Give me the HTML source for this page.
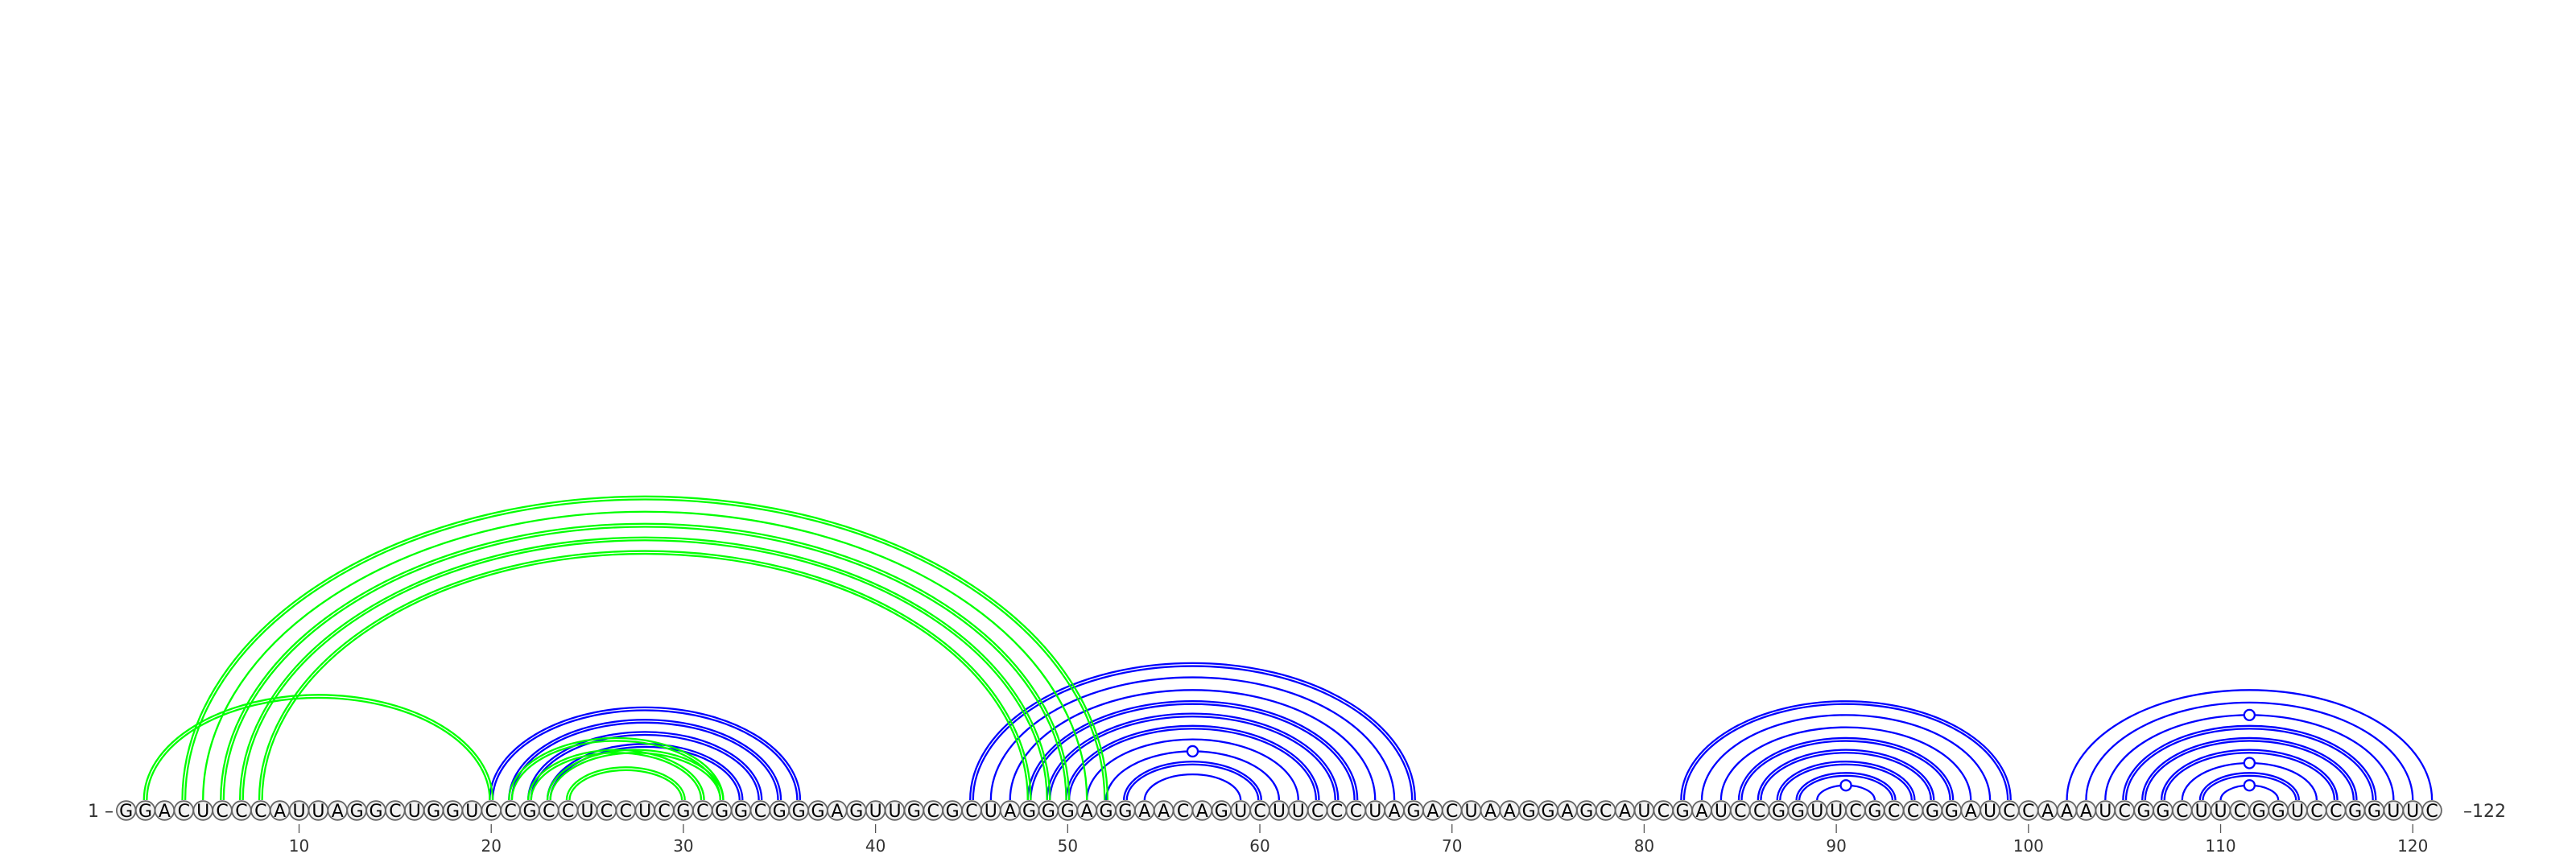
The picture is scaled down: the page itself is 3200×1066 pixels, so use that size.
<!DOCTYPE html>
<html><head><meta charset="utf-8"><style>
html,body{margin:0;padding:0;background:#fff;}
svg{display:block;}
text{font-family:"DejaVu Sans","Liberation Sans",sans-serif;}
</style></head><body>
<svg id="chart" width="3200" height="1066" viewBox="0 0 3200 1066" xmlns="http://www.w3.org/2000/svg">
<g id="arcs-blue"></g>
<g id="arcs-green"></g>
<g id="nts"></g>
<g id="ticks"></g>
<text x="141" y="1015" font-size="22" fill="#333" text-anchor="end">1 –</text>
<text x="3060" y="1015" font-size="22" fill="#333">–122</text>
</svg>
<script>
const sequence = "GGACUCCCAUUAGGCUGGUCCGCCUCCUCGCGGCGGGAGUUGCGCUAGGGAGGAACAGUCUUCCCUAGACUAAGGAGCAUCGAUCCGGUUCGCCGGAUCCAAAUCGGCUUCGGUCCGGUUC";
const tickValues = [10,20,30,40,50,60,70,80,90,100,110,120];
const blueI = [20,21,22,23, 45,46,47,48,49,50,51,52,53,54, 82,83,84,85,86,87,88,89, 102,103,104,105,106,107,108,109,110];
const blueJ = [36,35,34,33, 68,67,66,65,64,63,62,61,60,59, 99,98,97,96,95,94,93,92, 121,120,119,118,117,116,115,114,113];
const blueDouble = [1,1,1,1, 1,0,0,1,1,1,0,0,1,0, 1,0,0,1,1,1,1,0, 0,0,0,1,1,1,0,1,0];
const blueMarker = [0,0,0,0, 0,0,0,0,0,0,0,1,0,0, 0,0,0,0,0,0,0,1, 0,0,1,0,0,0,1,0,1];
const greenI = [2,4,5,6,7,8,21,22,23,24];
const greenJ = [20,52,51,50,49,48,32,31,32,30];
const greenDouble = [1,1,0,1,1,1,1,1,1,1];

const NS="http://www.w3.org/2000/svg";
const x0=156.7, dx=23.87, cy=1007, baseY=994;
function xPos(i){return x0+(i-1)*dx;}
function arcH(half){return 0.37*Math.pow(half,1.09);}
function mk(tag,attrs,parent){const e=document.createElementNS(NS,tag);for(const k in attrs)e.setAttribute(k,attrs[k]);parent.appendChild(e);return e;}

function drawArcs(group,I,J,D,M,color,prefix){
  for(let k=0;k<I.length;k++){
    const xa=xPos(I[k]), xb=xPos(J[k]);
    const half=(xb-xa)/2, h=arcH(half);
    const offs=D[k]?[-1.8,1.8]:[0];
    const g=mk('g',{},group);
    
    
    for(const o of offs){
      const rx=half+o, ry=h+o;
      mk('path',{d:`M ${xa-o} ${baseY} A ${rx} ${ry} 0 0 1 ${xb+o} ${baseY}`,fill:'none',stroke:color,'stroke-width':2.3},g);
    }
    if(M && M[k]){
      const c=mk('circle',{cx:(xa+xb)/2,cy:baseY-h,r:6.5,fill:'#fff',stroke:color,'stroke-width':2.3},g);
      
      
    }
  }
}
drawArcs(document.getElementById('arcs-blue'),blueI,blueJ,blueDouble,blueMarker,'#0000ff','blue');
drawArcs(document.getElementById('arcs-green'),greenI,greenJ,greenDouble,null,'#00ff00','green');

const nts=document.getElementById('nts');
for(let i=0;i<sequence.length;i++){
  const x=xPos(i+1);
  const g=mk('g',{},nts);
  
  
  mk('circle',{cx:x,cy:cy,r:11.8,fill:'#f2f2f2',stroke:'#666','stroke-width':1.8},g);
  const t=mk('text',{x:x,y:cy+8,'font-size':22,'text-anchor':'middle',fill:'#000'},g);
  t.textContent=sequence[i];
}
const ticks=document.getElementById('ticks');
for(const v of tickValues){
  const x=xPos(v);
  const l=mk('line',{x1:x,x2:x,y1:1024,y2:1035,stroke:'#555','stroke-width':1.3},ticks);
  
  
  const t=mk('text',{x:x,y:1058,'font-size':20,'text-anchor':'middle',fill:'#333'},ticks);
  
  
  t.textContent=v;
}
</script>
</body></html>
